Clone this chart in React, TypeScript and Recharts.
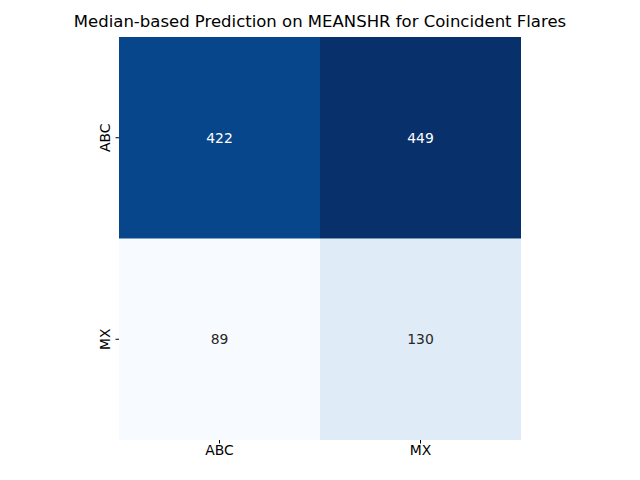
import React from 'react';
import { BarChart, Bar, XAxis, YAxis, Cell, LabelList } from 'recharts';

const predicted = ['ABC', 'MX'];
const rowABC = [422, 449];
const rowMX = [89, 130];
const colorsABC = ['#08468b', '#08306b'];
const colorsMX = ['#f7fbff', '#dfebf7'];
const yTickLabels: Record<number, string> = { 0.5: 'MX', 1.5: 'ABC' };

const data = predicted.map((c, i) => ({
  col: c, mxOne: 1, abcOne: 1, mxVal: rowMX[i], abcVal: rowABC[i],
}));

const font = 'DejaVu Sans, sans-serif';

const makeLabel = (vals: number[], dark: boolean) => (props: any) => {
  const { x, y, width, height, index } = props;
  return (
    <text x={x + width / 2} y={y + height / 2} textAnchor="middle" dominantBaseline="central"
      fontSize={13.9} fontFamily={font} fill={dark ? '#ffffff' : '#262626'}>
      {vals[index]}
    </text>
  );
};

const YTick = (props: any) => {
  const { x, y, payload } = props;
  return (
    <text x={x} y={y} transform={`rotate(-90 ${x - 4} ${y})`} textAnchor="middle"
      fontSize={13.9} fontFamily={font} fill="#000">
      <tspan x={x - 4} dy={0}>{yTickLabels[payload.value]}</tspan>
    </text>
  );
};

export default function App() {
  return (
    <div style={{ position: 'absolute', left: 0, top: 0, width: 640, height: 480, background: '#fff' }}>
      <div style={{ position: 'absolute', top: 12, width: 640, textAlign: 'center', fontFamily: font, fontSize: 16.5, color: '#000' }}>
        Median-based Prediction on MEANSHR for Coincident Flares
      </div>
      <BarChart width={640} height={480} data={data} barCategoryGap={0}
        margin={{ left: 89, right: 119, top: 37, bottom: 10 }}>
        <XAxis dataKey="col" axisLine={false} tickLine={{ stroke: '#000' }} tickSize={3.5}
          height={30} tick={{ fontSize: 13.9, fontFamily: font, fill: '#000' }} />
        <YAxis type="number" domain={[0, 2]} ticks={[0.5, 1.5]} axisLine={false}
          tickLine={{ stroke: '#000' }} tickSize={3.5} width={30} tick={<YTick />} />
        <Bar dataKey="mxOne" stackId="a" isAnimationActive={false}>
          {data.map((d, i) => <Cell key={i} fill={colorsMX[i]} />)}
          <LabelList content={makeLabel(rowMX, false)} />
        </Bar>
        <Bar dataKey="abcOne" stackId="a" isAnimationActive={false}>
          {data.map((d, i) => <Cell key={i} fill={colorsABC[i]} />)}
          <LabelList content={makeLabel(rowABC, true)} />
        </Bar>
      </BarChart>
    </div>
  );
}
